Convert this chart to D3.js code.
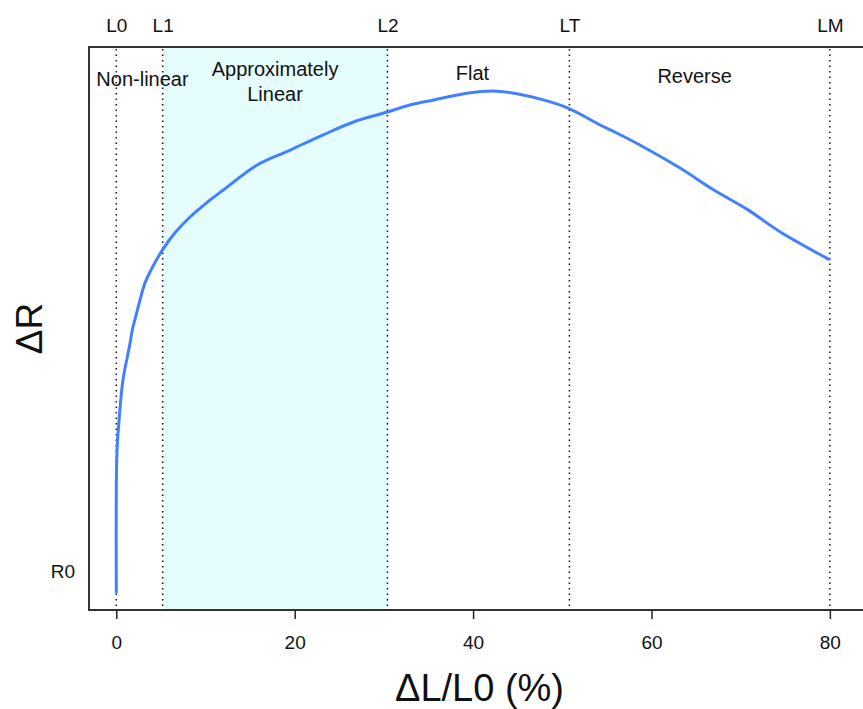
<!DOCTYPE html>
<html>
<head>
<meta charset="utf-8">
<script src="https://cdn.jsdelivr.net/npm/d3@7"></script>
<style>
  html, body { margin: 0; padding: 0; background: #fff; }
  svg { display: block; font-family: Arial, "Liberation Sans", sans-serif; }
</style>
</head>
<body>
<div id="chart"></div>
<script>
// Strain vs resistance change, with regime boundaries
const strain = [0, 0, 0.1, 0.3, 0.5, 0.68, 0.9, 1.23, 1.54, 1.79, 2.29, 2.66, 3.22, 3.89, 5.2, 6.58, 8.27, 10.5, 12.0, 15.75, 19.5, 23.2, 26.96, 30.5, 32.9, 35.6, 39.3, 42.3, 44.9, 47.9, 50.7, 54.3, 55.75, 58.7, 63.2, 67.0, 70.7, 74.4, 80.0];
const deltaR = [3.0, 21.7, 29.0, 33.5, 37.3, 40.0, 42.3, 44.9, 47.4, 49.7, 52.8, 55.1, 58.1, 60.4, 64.0, 67.0, 69.8, 72.8, 74.6, 79.0, 81.7, 84.4, 86.9, 88.5, 89.7, 90.6, 91.8, 92.2, 91.7, 90.6, 89.1, 86.1, 85.0, 82.6, 78.5, 74.6, 71.2, 67.2, 62.2];

const boundaryNames = ["L0", "L1", "L2", "LT", "LM"];
const boundaryValues = [0, 5.2, 30.4, 50.8, 80];

const regionNames = [["Non-linear"], ["Approximately", "Linear"], ["Flat"], ["Reverse"]];

const xTicks = [0, 20, 40, 60, 80];
const yTickValues = [6.8];
const yTickLabels = ["R0"];

(function () {
  const W = 863, H = 709;
  const pL = 89, pR = 870, pT = 47, pB = 610;
  const FONT = "Arial, 'Liberation Sans', sans-serif";

  const svg = d3.select("#chart").append("svg")
    .attr("width", W).attr("height", H)
    .attr("viewBox", `0 0 ${W} ${H}`);

  const x = d3.scaleLinear().domain([-3.06, 84.5]).range([pL, pR]);
  const y = d3.scaleLinear().domain([0, 100]).range([pB, pT]);

  // shaded linear band
  svg.append("rect")
    .attr("x", x(boundaryValues[1])).attr("y", pT)
    .attr("width", x(boundaryValues[2]) - x(boundaryValues[1]))
    .attr("height", pB - pT)
    .attr("fill", "#e6fdfd");

  // dotted boundaries
  boundaryValues.forEach(v => {
    svg.append("line")
      .attr("x1", x(v)).attr("x2", x(v))
      .attr("y1", pT + 2).attr("y2", pB)
      .attr("stroke", "#111").attr("stroke-width", 1.5)
      .attr("stroke-dasharray", "1.5 4");
  });

  // region labels
  const regionY = [86, 76, 80, 83];
  regionNames.forEach((lines, i) => {
    let cx = (x(boundaryValues[i]) + x(boundaryValues[i + 1])) / 2;
    if (i === 0) cx += 3;
    if (i === 2) cx -= 6;
    if (i === 3) cx -= 5;
    const t = svg.append("text")
      .attr("x", cx).attr("y", regionY[i])
      .attr("text-anchor", "middle").attr("fill", "#111")
      .attr("font-size", "20px");
    lines.forEach((s, k) => {
      t.append("tspan").attr("x", cx).attr("dy", k === 0 ? 0 : 25).text(s);
    });
  });

  // curve
  const pts = strain.map((s, i) => [s, deltaR[i]]);
  svg.append("path")
    .datum(pts)
    .attr("fill", "none")
    .attr("stroke", "#4180ff")
    .attr("stroke-width", 3)
    .attr("stroke-linejoin", "round")
    .attr("d", d3.line().x(d => x(d[0])).y(d => y(d[1])).curve(d3.curveCatmullRom.alpha(0.5)));

  // frame
  svg.append("line").attr("x1", pL).attr("x2", W).attr("y1", pT).attr("y2", pT)
    .attr("stroke", "#333").attr("stroke-width", 2);
  svg.append("line").attr("x1", pL).attr("x2", W).attr("y1", pB).attr("y2", pB)
    .attr("stroke", "#333").attr("stroke-width", 2);
  svg.append("line").attr("x1", pL).attr("x2", pL).attr("y1", pT - 1).attr("y2", pB + 1)
    .attr("stroke", "#333").attr("stroke-width", 2);

  // bottom axis
  const xAxis = svg.append("g")
    .attr("transform", `translate(0,${pB})`)
    .call(d3.axisBottom(x).tickValues(xTicks).tickSize(9).tickPadding(17));
  xAxis.select(".domain").remove();
  xAxis.selectAll(".tick line").attr("stroke", "#222").attr("stroke-width", 1.5);
  xAxis.selectAll(".tick text").attr("font-size", "19px").attr("fill", "#111").attr("font-family", FONT);

  // top boundary labels
  const topAxis = svg.append("g")
    .attr("transform", `translate(0,${pT})`)
    .call(d3.axisTop(x).tickValues(boundaryValues).tickSize(0).tickPadding(15)
      .tickFormat((d, i) => boundaryNames[i]));
  topAxis.select(".domain").remove();
  topAxis.selectAll(".tick text").attr("font-size", "19px").attr("fill", "#111").attr("font-family", FONT);

  // left label R0
  const yAxis = svg.append("g")
    .attr("transform", `translate(${pL},0)`)
    .call(d3.axisLeft(y).tickValues(yTickValues).tickSize(0).tickPadding(14)
      .tickFormat((d, i) => yTickLabels[i]));
  yAxis.select(".domain").remove();
  yAxis.selectAll(".tick text").attr("font-size", "19px").attr("fill", "#111").attr("font-family", FONT);

  // axis titles
  svg.append("text")
    .attr("transform", `translate(42,${(pT + pB) / 2}) rotate(-90)`)
    .attr("text-anchor", "middle").attr("fill", "#111")
    .attr("font-size", "37px")
    .text("ΔR");
  svg.append("text")
    .attr("x", (pL + pR) / 2).attr("y", 701)
    .attr("text-anchor", "middle").attr("fill", "#111")
    .attr("font-size", "38px")
    .text("ΔL/L0 (%)");
})();
</script>
</body>
</html>
